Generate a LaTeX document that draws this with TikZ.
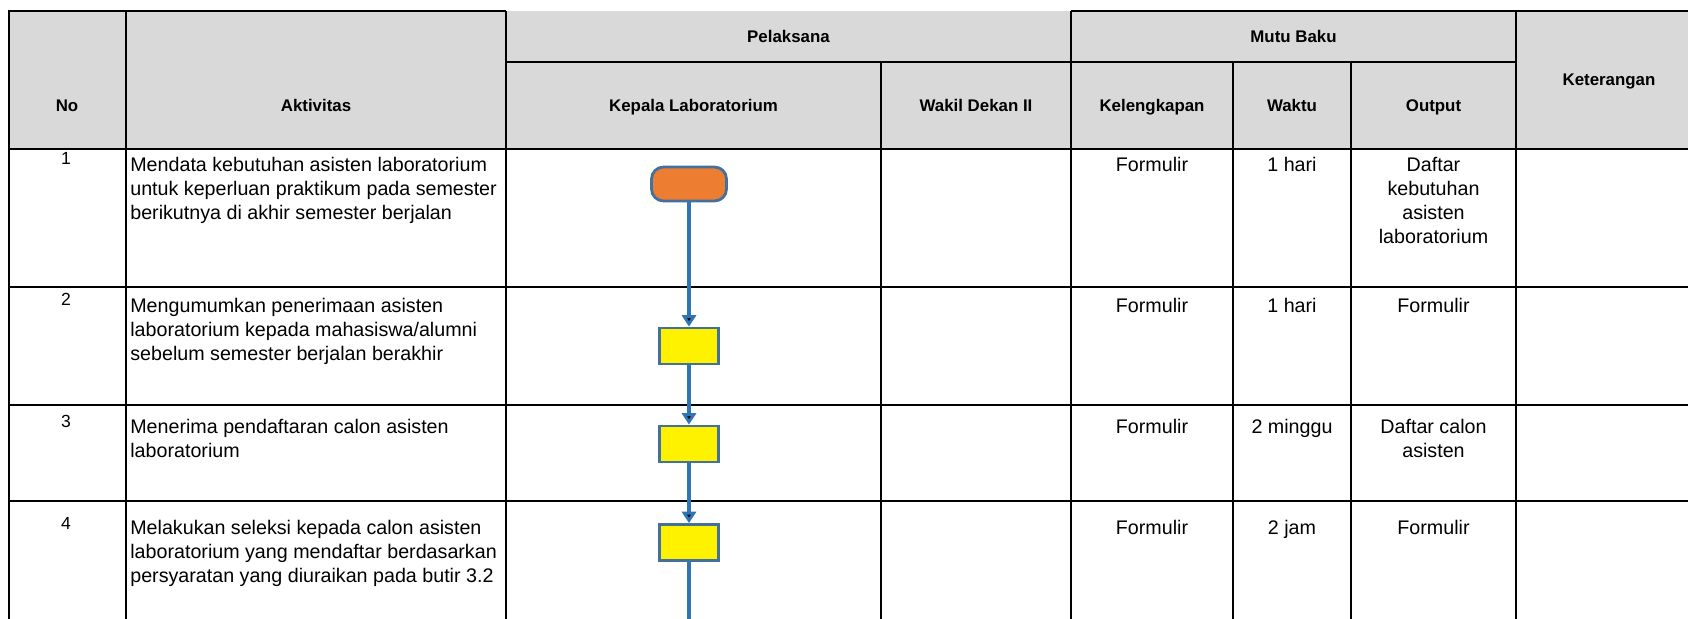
\documentclass[tikz,border=0pt]{standalone}
\usepackage{fontspec}
\setmainfont{Liberation Sans}
\usepackage{xcolor}
\usetikzlibrary{arrows.meta,positioning}

\definecolor{headgray}{HTML}{D9D9D9}
\definecolor{termorange}{HTML}{ED7D31}
\definecolor{edgeblue}{HTML}{41719C}
\definecolor{lineblue}{HTML}{2E75B6}

\begin{document}
\begin{tikzpicture}[x=0.02cm,y=-0.02cm,
	head/.style={font=\fontsize{9.6}{11.5}\selectfont\bfseries,inner sep=0pt,text height=6.9pt,text depth=0pt},
	txt/.style={font=\fontsize{11.2}{13.6}\selectfont,inner sep=0pt,anchor=north,align=center},
	akt/.style={txt,anchor=north west,align=left},
	num/.style={font=\fontsize{10}{12}\selectfont,inner sep=0pt,text height=7.2pt,text depth=0pt},
	tbl/.style={line width=1.4pt},
	proc/.style={draw=edgeblue,fill=yellow,line width=1.6pt,minimum width=1.18cm,minimum height=0.72cm,inner sep=0pt},
	term/.style={proc,fill=termorange,rounded corners=0.24cm,minimum width=1.5cm,minimum height=0.68cm},
	flow/.style={draw=lineblue,line width=2.2pt,-{Triangle[width=8pt,length=6.5pt]}}]
	\useasboundingbox (0,0) rectangle (1688,619);

	% table
	\fill[headgray] (9,11) rectangle (1688,149);
	\draw[tbl] (506,11) -- (9,11) -- (9,619);
	\draw[tbl] (1071,11) -- (1688,11);
	\foreach \x in {126,506,1071,1516} \draw[tbl] (\x,11) -- (\x,619);
	\foreach \x in {881,1233,1351} \draw[tbl] (\x,62) -- (\x,619);
	\draw[tbl] (506,62) -- (1516,62);
	\foreach \y in {149,287,405,501} \draw[tbl] (9,\y) -- (1688,\y);

	% header
	\node[head] (h_no)  at (67,105)     {No};
	\node[head] (h_akt) at (316,105)    {Aktivitas};
	\node[head] (h_pel) at (788.5,36)   {Pelaksana};
	\node[head] (h_kep) at (693.5,105)  {Kepala Laboratorium};
	\node[head] (h_wd)  at (976,105)    {Wakil Dekan II};
	\node[head] (h_mb)  at (1293.5,36)  {Mutu Baku};
	\node[head] (h_kel) at (1152,105)   {Kelengkapan};
	\node[head] (h_wkt) at (1292,105)   {Waktu};
	\node[head] (h_out) at (1433.5,105) {Output};
	\node[head] (h_ket) at (1609,79)    {Keterangan};

	% rows
	\node[num] (n_1) at (66,158) {1};
	\node[akt] (a_1) at (130,157) {Mendata kebutuhan asisten laboratorium\\untuk keperluan praktikum pada semester\\berikutnya di akhir semester berjalan};
	\node[txt] (k_1) at (1152,157)   {Formulir};
	\node[txt] (w_1) at (1292,157)   {1 hari};
	\node[txt] (o_1) at (1433.5,157) {Daftar\\kebutuhan\\asisten\\laboratorium};

	\node[num] (n_2) at (66,299) {2};
	\node[akt] (a_2) at (130,298) {Mengumumkan penerimaan asisten\\laboratorium kepada mahasiswa/alumni\\sebelum semester berjalan berakhir};
	\node[txt] (k_2) at (1152,298)   {Formulir};
	\node[txt] (w_2) at (1292,298)   {1 hari};
	\node[txt] (o_2) at (1433.5,298) {Formulir};

	\node[num] (n_3) at (66,421) {3};
	\node[akt] (a_3) at (130,419) {Menerima pendaftaran calon asisten\\laboratorium};
	\node[txt] (k_3) at (1152,419)   {Formulir};
	\node[txt] (w_3) at (1292,419)   {2 minggu};
	\node[txt] (o_3) at (1433.5,419) {Daftar calon\\asisten};

	\node[num] (n_4) at (66,523) {4};
	\node[akt] (a_4) at (130,520) {Melakukan seleksi kepada calon asisten\\laboratorium yang mendaftar berdasarkan\\persyaratan yang diuraikan pada butir 3.2};
	\node[txt] (k_4) at (1152,520)   {Formulir};
	\node[txt] (w_4) at (1292,520)   {2 jam};
	\node[txt] (o_4) at (1433.5,520) {Formulir};

	% flow
	\node[term] (start) at (689,184) {};
	\node[proc] (b_2) at (689,346) {};
	\node[proc] (b_3) at (689,444) {};
	\node[proc] (b_4) at (689,542.5) {};
	\coordinate (next) at (689,619);

	\path[flow]
	(start) edge (b_2)
	(b_2) edge (b_3)
	(b_3) edge (b_4)
	;
	\draw[draw=lineblue,line width=2.2pt] (b_4) -- (next);
\end{tikzpicture}
\end{document}
